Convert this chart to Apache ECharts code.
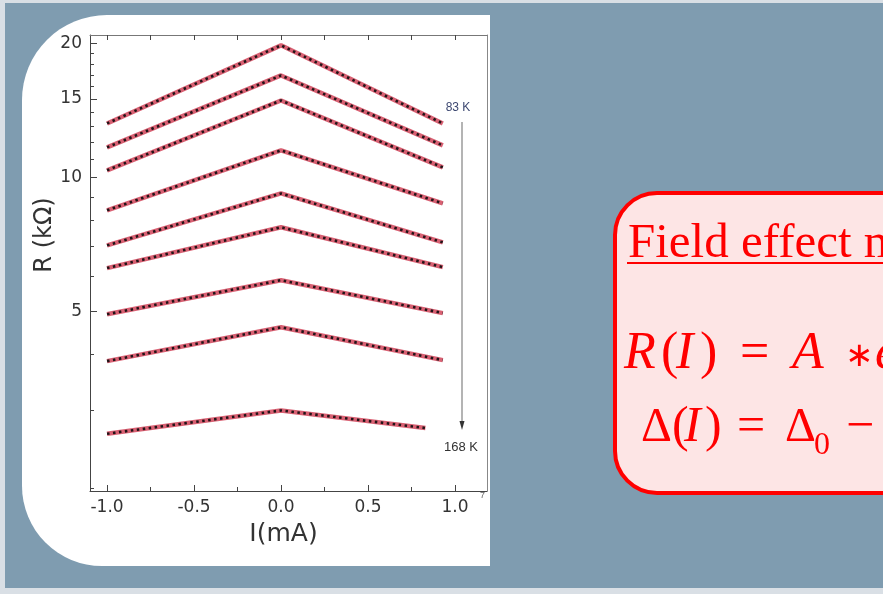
<!DOCTYPE html>
<html><head><meta charset="utf-8">
<script src="https://cdn.jsdelivr.net/npm/echarts@6/dist/echarts.min.js"></script>
<style>html,body{margin:0;padding:0;background:#d9dfe5;}#c{width:883px;height:594px;}</style>
</head><body><div id="c"></div>
<script>
// ---- data ----
const curveNames = ['83 K','c2','c3','c4','c5','c6','c7','c8','168 K'];
const currentLeft  = [-1.0,-1.0,-1.0,-1.0,-1.0,-1.0,-1.0,-1.0,-1.0];
const currentPeak  = [0.0,0.0,0.0,0.0,0.0,0.0,0.0,0.0,0.0];
const currentRight = [0.93,0.93,0.93,0.93,0.93,0.93,0.93,0.93,0.83];
const resistanceLeft  = [13.22,11.68,10.37,8.43,7.03,6.25,4.92,3.86,2.65];
const resistancePeak  = [19.81,16.95,14.89,11.50,9.20,7.72,5.87,4.60,2.99];
const resistanceRight = [13.22,11.80,10.53,8.74,7.14,6.28,4.95,3.88,2.73];
const xTickLabels = [-1.0,-0.5,0.0,0.5,1.0];
const xMinorTicks = [-0.75,-0.25,0.25,0.75];
const yTickLabels = [5,10,15,20];
const yMinorTicks = [2,3,4,6,7,8,9,11,12,13,14,16,17,18,19];
const tempLabels = ['83 K','168 K'];

const X_MIN = -1.098, X_MAX = 1.184, Y_MIN = 1.97, Y_MAX = 20.9;
const L = Math.log10;
const axisColor = '#444';
const labelFont = 'DejaVu Sans';

const series = [];
for (let i = 0; i < resistanceLeft.length; i++) {
  const d = [[currentLeft[i], resistanceLeft[i]], [currentPeak[i], resistancePeak[i]], [currentRight[i], resistanceRight[i]]];
  series.push({type:'line', name:'fit ' + curveNames[i], xAxisIndex:0, yAxisIndex:0, data:d, symbol:'none',
    lineStyle:{color:'#d03a50', width:4.5, opacity:0.8}, z:3, silent:true});
  series.push({type:'line', name:'data ' + curveNames[i], xAxisIndex:0, yAxisIndex:0, data:d, symbol:'none',
    lineStyle:{color:'#221418', width:2.6, type:[2.5,3.5]}, z:4, silent:true});
}

const noZero = {onZero:false};
const chart = echarts.init(document.getElementById('c'), null, {renderer:'canvas'});
chart.setOption({
  animation:false,
  backgroundColor:'#d9dfe5',
  grid:{left:90, top:35, right:396, bottom:103, containLabel:false, outerBoundsMode:'none'},
  xAxis:[
    {type:'value', position:'bottom', min:X_MIN, max:X_MAX,
     axisLine:{show:true, onZero:false, lineStyle:{color:axisColor, width:1}},
     axisTick:{show:true, inside:true, length:6, customValues:xTickLabels, lineStyle:{color:axisColor}},
     axisLabel:{show:true, customValues:xTickLabels, formatter:v => Number(v).toFixed(1), color:'#333', fontSize:17, fontFamily:labelFont, margin:8},
     splitLine:{show:false},
     name:'I(mA)', nameLocation:'middle', nameGap:31,
     nameTextStyle:{color:'#333', fontSize:25, fontFamily:labelFont, padding:[0,10,0,0]}},
    {type:'value', position:'bottom', min:X_MIN, max:X_MAX,
     axisLine:{show:false, onZero:false},
     axisTick:{show:true, inside:true, length:4, customValues:xMinorTicks, lineStyle:{color:axisColor}},
     axisLabel:{show:false}, splitLine:{show:false}},
    {type:'value', position:'top', min:X_MIN, max:X_MAX,
     axisLine:{show:true, onZero:false, lineStyle:{color:'#777', width:1}},
     axisTick:{show:true, inside:true, length:5, customValues:xTickLabels.concat(xMinorTicks), lineStyle:{color:axisColor}},
     axisLabel:{show:false}, splitLine:{show:false}}
  ],
  yAxis:[
    {type:'log', logBase:10, position:'left', min:Y_MIN, max:Y_MAX,
     axisLine:{show:true, onZero:false, lineStyle:{color:axisColor, width:1}},
     axisTick:{show:false}, axisLabel:{show:false}, splitLine:{show:false}, minorTick:{show:false}, minorSplitLine:{show:false}},
    {type:'value', position:'left', min:L(Y_MIN), max:L(Y_MAX),
     axisLine:{show:false, onZero:false},
     axisTick:{show:true, inside:true, length:7, customValues:yTickLabels.map(L), lineStyle:{color:axisColor}},
     axisLabel:{show:true, customValues:yTickLabels.map(L), formatter:v => String(Math.round(Math.pow(10, v))), color:'#333', fontSize:17, fontFamily:labelFont, margin:8},
     splitLine:{show:false},
     name:'R (k\u03A9)', nameLocation:'middle', nameRotate:90, nameGap:32,
     nameTextStyle:{color:'#333', fontSize:24, fontFamily:labelFont, padding:[0,0,0,56]}},
    {type:'value', position:'left', min:L(Y_MIN), max:L(Y_MAX),
     axisLine:{show:false, onZero:false},
     axisTick:{show:true, inside:true, length:4, customValues:yMinorTicks.map(L), lineStyle:{color:axisColor}},
     axisLabel:{show:false}, splitLine:{show:false}},
    {type:'value', position:'right', min:L(Y_MIN), max:L(Y_MAX),
     axisLine:{show:true, onZero:false, lineStyle:{color:'#888', width:1}},
     axisTick:{show:false}, axisLabel:{show:false}, splitLine:{show:false}}
  ],
  series: series,
  graphic:[
    {type:'rect', z:-10, silent:true, shape:{x:5, y:3, width:878, height:585}, style:{fill:'#7f9cb0'}},
    {type:'rect', z:-9, silent:true, shape:{x:22, y:15, width:468, height:551, r:[85,0,0,80]}, style:{fill:'#ffffff'}},
    // temperature arrow annotation
    {type:'line', z:5, silent:true, shape:{x1:462, y1:122, x2:462, y2:423}, style:{stroke:'#8c8c8c', lineWidth:1.3}},
    {type:'polygon', z:5, silent:true, shape:{points:[[459.5,421],[464.5,421],[462,430]]}, style:{fill:'#333'}},
    {type:'text', z:5, silent:true, style:{x:458, y:108, text:tempLabels[0], fill:'#3c4770', font:'12px "Liberation Sans"', align:'center', verticalAlign:'middle'}},
    {type:'text', z:5, silent:true, style:{x:461, y:447, text:tempLabels[1], fill:'#333', font:'13px "Liberation Sans"', align:'center', verticalAlign:'middle'}},
    {type:'text', z:5, silent:true, style:{x:480, y:496, text:'7', fill:'#666', font:'9px "Liberation Sans"', align:'left', verticalAlign:'middle'}},
    // model box
    {type:'rect', z:1, silent:true, shape:{x:615, y:193, width:330, height:300, r:42}, style:{fill:'#fde5e5', stroke:'#ff0000', lineWidth:4}},
    {type:'text', z:6, silent:true, style:{x:628, y:244, text:'Field effect model', fill:'#ff0000', font:'49px "Liberation Serif"', align:'left', verticalAlign:'middle'}},
    {type:'rect', z:6, silent:true, shape:{x:627, y:262, width:270, height:2}, style:{fill:'#ff0000'}},
    {type:'text', z:6, silent:true, style:{x:624, y:354, text:'R', fill:'#ff0000', font:'italic 52px "Liberation Serif"', align:'left', verticalAlign:'middle'}},
    {type:'text', z:6, silent:true, style:{x:661, y:354, text:'(', fill:'#ff0000', font:'52px "Liberation Serif"', align:'left', verticalAlign:'middle'}},
    {type:'text', z:6, silent:true, style:{x:676, y:354, text:'I', fill:'#ff0000', font:'italic 52px "Liberation Serif"', align:'left', verticalAlign:'middle'}},
    {type:'text', z:6, silent:true, style:{x:700, y:354, text:')', fill:'#ff0000', font:'52px "Liberation Serif"', align:'left', verticalAlign:'middle'}},
    {type:'text', z:6, silent:true, style:{x:740, y:354, text:'=', fill:'#ff0000', font:'52px "Liberation Serif"', align:'left', verticalAlign:'middle'}},
    {type:'text', z:6, silent:true, style:{x:792, y:354, text:'A', fill:'#ff0000', font:'italic 52px "Liberation Serif"', align:'left', verticalAlign:'middle'}},
    {type:'text', z:6, silent:true, style:{x:845, y:357, text:'\u2217', fill:'#ff0000', font:'34px "DejaVu Sans"', align:'left', verticalAlign:'middle'}},
    {type:'text', z:6, silent:true, style:{x:875, y:354, text:'e', fill:'#ff0000', font:'italic 52px "Liberation Serif"', align:'left', verticalAlign:'middle'}},
    {type:'text', z:6, silent:true, style:{x:641, y:428, text:'\u0394', fill:'#ff0000', font:'48px "Liberation Serif"', align:'left', verticalAlign:'middle'}},
    {type:'text', z:6, silent:true, style:{x:672, y:428, text:'(', fill:'#ff0000', font:'50px "Liberation Serif"', align:'left', verticalAlign:'middle'}},
    {type:'text', z:6, silent:true, style:{x:684, y:428, text:'I', fill:'#ff0000', font:'italic 50px "Liberation Serif"', align:'left', verticalAlign:'middle'}},
    {type:'text', z:6, silent:true, style:{x:705, y:428, text:')', fill:'#ff0000', font:'50px "Liberation Serif"', align:'left', verticalAlign:'middle'}},
    {type:'text', z:6, silent:true, style:{x:737, y:428, text:'=', fill:'#ff0000', font:'50px "Liberation Serif"', align:'left', verticalAlign:'middle'}},
    {type:'text', z:6, silent:true, style:{x:785, y:428, text:'\u0394', fill:'#ff0000', font:'48px "Liberation Serif"', align:'left', verticalAlign:'middle'}},
    {type:'text', z:6, silent:true, style:{x:814, y:446, text:'0', fill:'#ff0000', font:'32px "Liberation Serif"', align:'left', verticalAlign:'middle'}},
    {type:'text', z:6, silent:true, style:{x:846, y:428, text:'\u2212', fill:'#ff0000', font:'50px "Liberation Serif"', align:'left', verticalAlign:'middle'}}
  ]
});
</script></body></html>
